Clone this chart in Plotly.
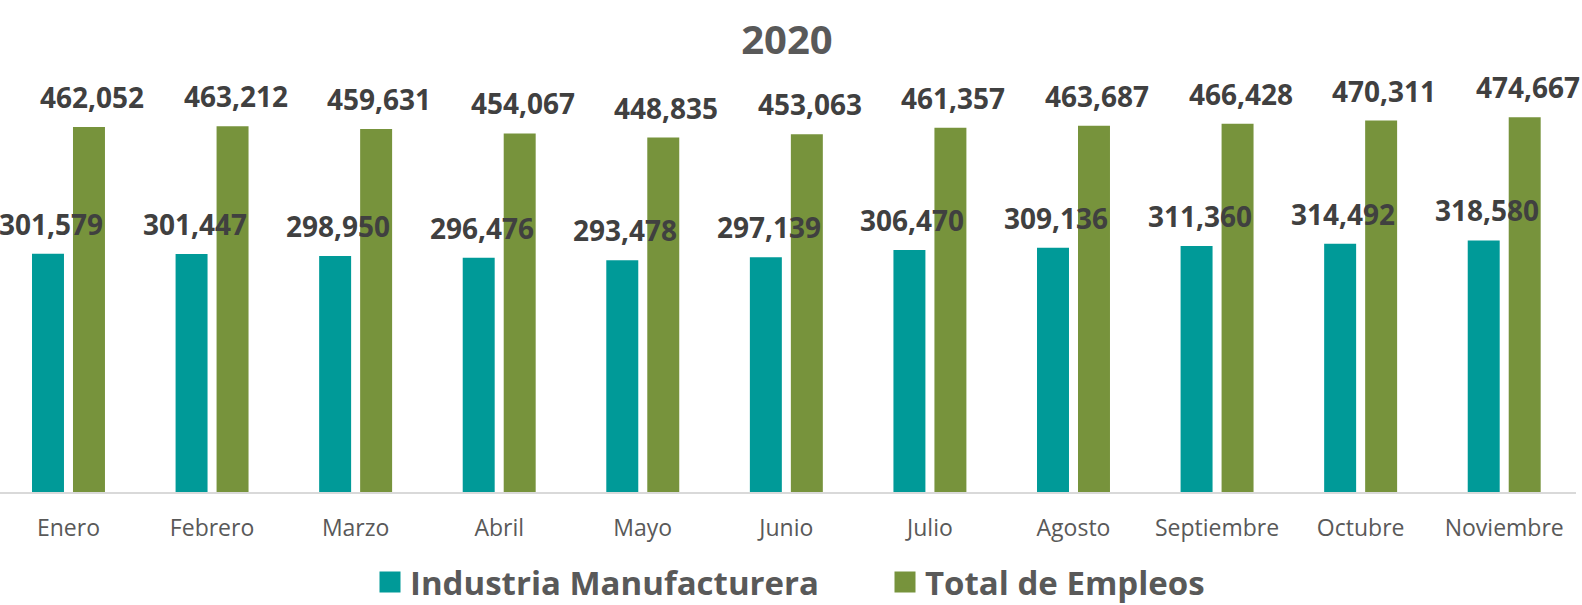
import plotly.graph_objects as go

months = ["Enero", "Febrero", "Marzo", "Abril", "Mayo", "Junio", "Julio",
          "Agosto", "Septiembre", "Octubre", "Noviembre"]
industria = [301579, 301447, 298950, 296476, 293478, 297139, 306470,
             309136, 311360, 314492, 318580]
total = [462052, 463212, 459631, 454067, 448835, 453063, 461357,
         463687, 466428, 470311, 474667]
series_names = ["Industria Manufacturera", "Total de Empleos"]
colors = ["#009A98", "#77933C"]

FONT = "Open Sans"
LABEL_COLOR = "#404040"
TEXT_GREY = "#595959"

fig = go.Figure()
for name, vals, col in zip(series_names, [industria, total], colors):
    fig.add_trace(go.Bar(x=months, y=vals, name=name, marker_color=col,
                         marker_line_width=0, showlegend=False))
    # legend proxy with bigger square
    fig.add_trace(go.Scatter(x=[None], y=[None], mode="markers", name=name,
                             marker=dict(symbol="square", size=16, color=col,
                                         line=dict(color=col, width=5)),
                             showlegend=True))

annotations = []
for vals, shift in [(industria, -17.5), (total, 23.5)]:
    for m, v in zip(months, vals):
        annotations.append(dict(
            x=m, y=v, xref="x", yref="y", text=f"{v:,}", showarrow=False,
            xshift=shift, yshift=9, yanchor="bottom", xanchor="center",
            font=dict(family=FONT, size=28, color=LABEL_COLOR, weight="bold")))

fig.update_layout(
    width=1582, height=605,
    margin=dict(l=0, r=6, t=60, b=113, autoexpand=False),
    paper_bgcolor="white", plot_bgcolor="white",
    barmode="group", bargap=0.429, bargroupgap=0.22,
    title=dict(text="<b>2020</b>", x=787 / 1582, xanchor="center",
               y=1 - 40 / 605, yanchor="middle", yref="container",
               font=dict(family=FONT, size=40, color=TEXT_GREY)),
    xaxis=dict(type="category", range=[-0.477, 10.5], showgrid=False,
               showline=True, linecolor="#D9D9D9", linewidth=2,
               ticks="", ticklabelstandoff=14, automargin=False,
               tickfont=dict(family=FONT, size=23, color=TEXT_GREY)),
    yaxis=dict(range=[0, 547000], visible=False, showgrid=False,
               zeroline=False, automargin=False),
    legend=dict(orientation="h", x=370 / 1576, xanchor="left",
                y=(492 - 582) / 432, yanchor="middle",
                font=dict(family=FONT, size=33, color=TEXT_GREY, weight="bold"),
                itemsizing="trace", traceorder="normal", entrywidth=470),
    annotations=annotations,
)

fig.write_html("out.html", config={"displayModeBar": False},
               post_script="document.body.style.margin='0';document.body.style.overflow='hidden';")
